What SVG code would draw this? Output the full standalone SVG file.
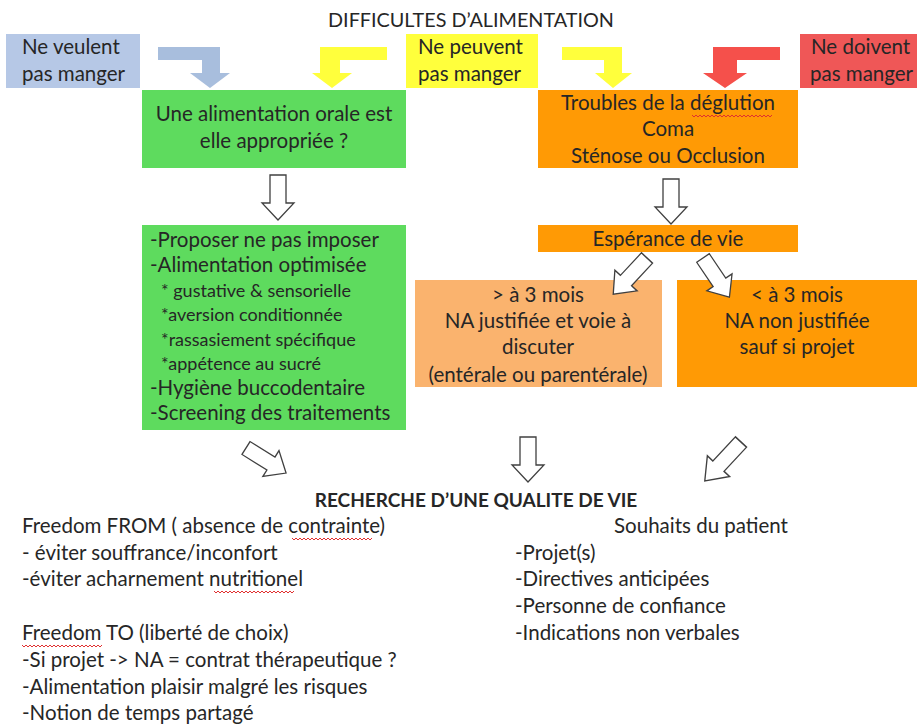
<svg xmlns="http://www.w3.org/2000/svg" width="917" height="726" viewBox="0 0 917 726">
<defs>
<style>
text{font-family:Lato,"Open Sans","Liberation Sans",sans-serif;fill:#262626;}
.t{font-size:20.5px;}
.s{font-size:18px;}
.c{text-anchor:middle;}
.b{font-weight:bold;}
.hol{fill:#ffffff;stroke:#404040;stroke-width:1.3;stroke-linejoin:miter;}
.sq{fill:none;stroke:#e03030;stroke-width:1;}
</style>
<path id="ha" d="M-8,0 L8,0 L8,28 L16,28 L0,45 L-16,28 L-8,28 Z"/>
<path id="zz" d="M0,0 l2,2 l2,-2 l2,2 l2,-2 l2,2 l2,-2 l2,2 l2,-2 l2,2 l2,-2 l2,2 l2,-2 l2,2 l2,-2 l2,2 l2,-2 l2,2 l2,-2 l2,2 l2,-2 l2,2 l2,-2 l2,2 l2,-2 l2,2 l2,-2 l2,2 l2,-2 l2,2 l2,-2 l2,2 l2,-2 l2,2 l2,-2 l2,2 l2,-2 l2,2 l2,-2 l2,2 l2,-2"/>
</defs>
<rect width="917" height="726" fill="#ffffff"/>

<text id="title" x="471" y="27" class="c" style="font-size:19.8px">DIFFICULTES D’ALIMENTATION</text>

<g id="n_veulent">
<rect x="6" y="34" width="134" height="54" fill="#b6c8e6"/>
<text x="22" y="54" class="t">Ne veulent</text>
<text x="22" y="81" class="t">pas manger</text>
</g>
<g id="n_peuvent">
<rect x="406" y="34" width="132" height="54" fill="#ffff3c"/>
<text x="418" y="54" class="t">Ne peuvent</text>
<text x="418" y="81" class="t">pas manger</text>
</g>
<g id="n_doivent">
<rect x="800" y="34" width="117" height="54" fill="#ef5757"/>
<text x="811" y="54" class="t">Ne doivent</text>
<text x="810" y="81" class="t">pas manger</text>
</g>

<g id="n_orale">
<rect x="142" y="90" width="264" height="78" fill="#5edb5e"/>
<text x="274" y="121" class="t c">Une alimentation orale est</text>
<text x="274" y="148" class="t c">elle appropriée ?</text>
</g>

<g id="n_troubles">
<rect x="538" y="90" width="260" height="78" fill="#ff9a05"/>
<text x="668" y="110" class="t c">Troubles de la déglution</text>
<text x="668" y="136" class="t c">Coma</text>
<text x="668" y="163" class="t c">Sténose ou Occlusion</text>
<use href="#zz" class="sq" x="692" y="115"/>
</g>

<g id="n_list">
<rect x="142" y="225" width="264" height="205" fill="#5edb5e"/>
<text x="150" y="247" class="t">-Proposer ne pas imposer</text>
<text x="150" y="272" class="t">-Alimentation optimisée</text>
<text x="161" y="297" class="s">* gustative  &amp; sensorielle</text>
<text x="161" y="321" class="s">*aversion conditionnée</text>
<text x="161" y="346" class="s">*rassasiement spécifique</text>
<text x="161" y="370" class="s">*appétence au sucré</text>
<text x="150" y="395" class="t">-Hygiène buccodentaire</text>
<text x="150" y="420" class="t">-Screening des traitements</text>
</g>

<g id="n_esperance">
<rect x="538" y="225" width="260" height="27" fill="#ff9a05"/>
<text x="668" y="246" class="t c">Espérance de vie</text>
</g>

<g id="n_plus3">
<rect x="415" y="280" width="247" height="107" fill="#fab36e"/>
<text x="538" y="302" class="t c">&gt; à 3 mois</text>
<text x="538" y="328" class="t c">NA justifiée et voie à</text>
<text x="538" y="354" class="t c">discuter</text>
<text x="538" y="382" class="t c">(entérale ou parentérale)</text>
</g>

<g id="n_moins3">
<rect x="677" y="280" width="240" height="107" fill="#ff9a05"/>
<text x="797" y="302" class="t c">&lt; à 3 mois</text>
<text x="797" y="328" class="t c">NA non justifiée</text>
<text x="797" y="354" class="t c">sauf si projet</text>
</g>

<g id="n_qualite">
<text x="476" y="507" class="t c b" style="font-size:19px">RECHERCHE D’UNE QUALITE DE VIE</text>
</g>

<g id="n_freedom">
<text x="22" y="533" class="t">Freedom FROM ( absence de contrainte)</text>
<text x="22" y="560" class="t">- éviter souffrance/inconfort</text>
<text x="22" y="586" class="t">-éviter acharnement nutritionel</text>
<text x="22" y="640" class="t">Freedom TO (liberté de choix)</text>
<text x="22" y="667" class="t">-Si projet -&gt; NA = contrat thérapeutique ?</text>
<text x="22" y="694" class="t">-Alimentation plaisir malgré les risques</text>
<text x="22" y="720" class="t">-Notion de temps partagé</text>
<use href="#zz" class="sq" x="292" y="538"/>
<use href="#zz" class="sq" x="214" y="591"/>
<use href="#zz" class="sq" x="22" y="645"/>
</g>

<g id="n_souhaits">
<text x="701" y="533" class="t c">Souhaits du patient</text>
<text x="515" y="560" class="t">-Projet(s)</text>
<text x="515" y="586" class="t">-Directives anticipées</text>
<text x="515" y="613" class="t">-Personne de confiance</text>
<text x="515" y="640" class="t">-Indications non verbales</text>
</g>

<g id="connectors">
<path d="M158,47 L220,47 L220,73 L230,73 L210,88 L190,73 L202,73 L202,60 L158,60 Z" fill="#a8bedd"/>
<path d="M387,47 L320,47 L320,73 L312,73 L332,88 L352,73 L340,73 L340,60 L387,60 Z" fill="#ffff3c"/>
<path d="M562,47 L622,47 L622,73 L632,73 L613,88 L595,73 L604,73 L604,60 L562,60 Z" fill="#ffff3c"/>
<path d="M780,47 L713,47 L713,73 L703,73 L725,88 L747,73 L737,73 L737,60 L780,60 Z" fill="#f5504b"/>
<use href="#ha" class="hol" transform="translate(278,175)"/>
<use href="#ha" class="hol" transform="translate(671,179)"/>
<use href="#ha" class="hol" transform="translate(647,258) rotate(43) scale(0.95,1.1)"/>
<use href="#ha" class="hol" transform="translate(703,258) rotate(-34) scale(0.95,1.05)"/>
<use href="#ha" class="hol" transform="translate(246,448) rotate(-58) scale(0.95,1.05)"/>
<use href="#ha" class="hol" transform="translate(528,437)"/>
<use href="#ha" class="hol" transform="translate(741,442) rotate(43) scale(0.95,1.18)"/>
</g>
</svg>
